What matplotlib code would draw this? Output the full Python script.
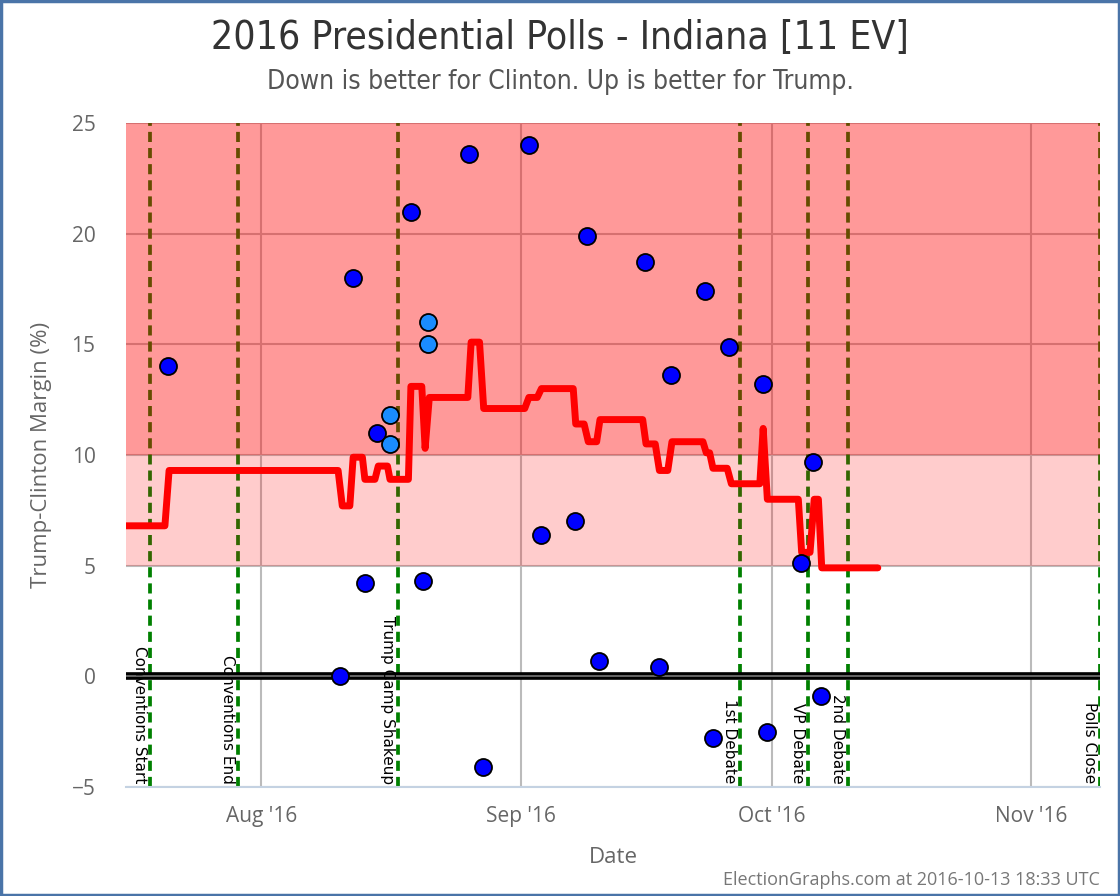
import numpy as np
import matplotlib
matplotlib.use("Agg")
import matplotlib.pyplot as plt
import matplotlib.dates as mdates
from matplotlib.patches import Rectangle
from matplotlib import font_manager
import datetime as dt

# --- data (day offsets are relative to 1 Aug 2016) ---
base = mdates.date2num(dt.datetime(2016, 8, 1))

poll_days = [-11.1, 9.4, 11.0, 12.4, 13.9, 17.9, 19.4, 24.9, 26.5, 32.0, 33.5,
             37.5, 39.0, 40.4, 45.9, 47.6, 49.0, 53.1, 54.0, 55.9, 60.0, 60.5,
             64.5, 66.0, 66.9]
poll_margin = [14.0, 0.0, 18.0, 4.2, 11.0, 21.0, 4.3, 23.6, -4.1, 24.0, 6.4,
               7.0, 19.9, 0.7, 18.7, 0.4, 13.6, 17.4, -2.8, 14.9, 13.2, -2.5,
               5.1, 9.7, -0.9]

# lighter blue dots (multi-candidate versions of the same polls)
alt_days = [15.4, 15.4, 20.0, 20.0]
alt_margin = [11.8, 10.5, 16.0, 15.0]

avg_days = [-16.2, -11.5, -11.0, 9.2, 9.7, 10.6, 11.0, 12.1, 12.4, 13.6, 14.0,
            15.1, 15.4, 17.6, 17.9, 19.2, 19.6, 20.1, 24.7, 25.1, 26.1, 26.6,
            31.5, 32.0, 33.0, 33.5, 37.3, 37.6, 38.6, 39.1, 40.1, 40.5, 45.6,
            46.0, 47.1, 47.6, 48.6, 49.1, 52.8, 53.2, 53.6, 54.0, 55.7, 56.2,
            59.6, 60.0, 60.5, 64.2, 64.6, 65.6, 66.1, 66.6, 67.0, 73.7]
avg_margin = [6.8, 6.8, 9.3, 9.3, 7.7, 7.7, 9.9, 9.9, 8.9, 8.9, 9.5,
              9.5, 8.9, 8.9, 13.1, 13.1, 10.3, 12.6, 12.6, 15.1, 15.1, 12.1,
              12.1, 12.6, 12.6, 13.0, 13.0, 11.4, 11.4, 10.6, 10.6, 11.6, 11.6,
              10.5, 10.5, 9.3, 9.3, 10.6, 10.6, 10.1, 10.1, 9.4, 9.4, 8.7,
              8.7, 11.2, 8.0, 8.0, 5.6, 5.6, 8.0, 8.0, 4.9, 4.9]

event_days = [-13.3, -2.75, 16.4, 57.2, 65.3, 70.1, 100.2]
event_names = ["Conventions Start", "Conventions End", "Trump Camp Shakeup",
               "1st Debate", "VP Debate", "2nd Debate", "Polls Close"]

month_ticks = ["2016-08-01", "2016-09-01", "2016-10-01", "2016-11-01"]
month_labels = ["Aug '16", "Sep '16", "Oct '16", "Nov '16"]

# condensed face for the headings if one is installed
names = {f.name for f in font_manager.fontManager.ttflist}
stretches = {(f.name, f.stretch) for f in font_manager.fontManager.ttflist}
if "Liberation Sans Narrow" in names:
    head_font = dict(family="Liberation Sans Narrow")
elif ("DejaVu Sans", "condensed") in stretches or ("DejaVu Sans", "semi-condensed") in stretches:
    head_font = dict(family="DejaVu Sans", fontstretch="condensed")
else:
    head_font = dict(family="DejaVu Sans")

# --- figure ---
fig = plt.figure(figsize=(11.2, 8.96), dpi=100)
ax = fig.add_axes([0.1125, 0.1217, 0.8696, 0.7410])

xmin, xmax = base - 16.15, base + 100.25
ax.set_xlim(xmin, xmax)
ax.set_ylim(-5, 25)

# grid
for m in month_ticks:
    ax.axvline(mdates.datestr2num(m), color="#bbbbbb", lw=1.5, zorder=0.5)
for yv in range(-5, 26, 5):
    ax.axhline(yv, color="#bbbbbb", lw=1.5, zorder=0.5)

# event lines
for d, name in zip(event_days, event_names):
    ax.axvline(base + d, color="#008000", lw=2.7, ls=(0, (2.7, 1.6)), zorder=0.8)
    ax.text(base + d - 0.35, -4.85, name, rotation=270, ha="right", va="bottom",
            fontsize=11, color="black", family="DejaVu Sans", zorder=3)

# bands
ax.axhspan(10, 25, color="#ff0000", alpha=0.4, lw=0, zorder=1)
ax.axhspan(5, 10, color="#ff0000", alpha=0.2, lw=0, zorder=1)

# zero line
ax.axhline(0, color="black", lw=5.5, zorder=2)
ax.axhline(0, color="#777777", lw=1.2, zorder=2.1)

# average line
ax.plot([base + d for d in avg_days], avg_margin, color="#ff0000", lw=5,
        solid_joinstyle="round", solid_capstyle="round", zorder=4)

# polls
ax.scatter([base + d for d in poll_days], poll_margin, s=150, color="#0000ff",
           edgecolor="black", linewidth=1.3, zorder=5)
ax.scatter([base + d for d in alt_days], alt_margin, s=150, color="#1a8cff",
           edgecolor="black", linewidth=1.3, zorder=5)

# axes styling
for s in ["left", "right", "top"]:
    ax.spines[s].set_visible(False)
ax.spines["bottom"].set_color("#c4d2e2")
ax.spines["bottom"].set_linewidth(1.5)
ax.set_xticks([mdates.datestr2num(m) for m in month_ticks])
ax.set_xticklabels(month_labels)
ax.set_yticks(range(-5, 26, 5))
ax.tick_params(length=0, labelsize=15, colors="#666666", pad=14)
for lab in ax.get_xticklabels() + ax.get_yticklabels():
    lab.set_family("Open Sans")
ax.tick_params(axis="y", pad=22)

ax.set_xlabel("Date", fontsize=16, color="#666666", family="Open Sans", labelpad=14)
ax.set_ylabel("Trump-Clinton Margin (%)", fontsize=16, color="#666666",
              family="Open Sans", labelpad=14)

fig.text(0.5, 0.958, "2016 Presidential Polls - Indiana [11 EV]", ha="center",
         va="center", fontsize=28, color="#333333", **head_font)
fig.text(0.5, 0.908, "Down is better for Clinton. Up is better for Trump.",
         ha="center", va="center", fontsize=19, color="#555555", **head_font)
fig.text(0.982, 0.018, "ElectionGraphs.com at 2016-10-13 18:33 UTC", ha="right",
         va="center", fontsize=13, color="#777777", family="Open Sans")

# outer border
fig.patches.append(Rectangle((0.001, 0.001), 0.998, 0.998, transform=fig.transFigure,
                             fill=False, edgecolor="#4a74a8", lw=2.5))

fig.savefig("out.png", dpi=100)
